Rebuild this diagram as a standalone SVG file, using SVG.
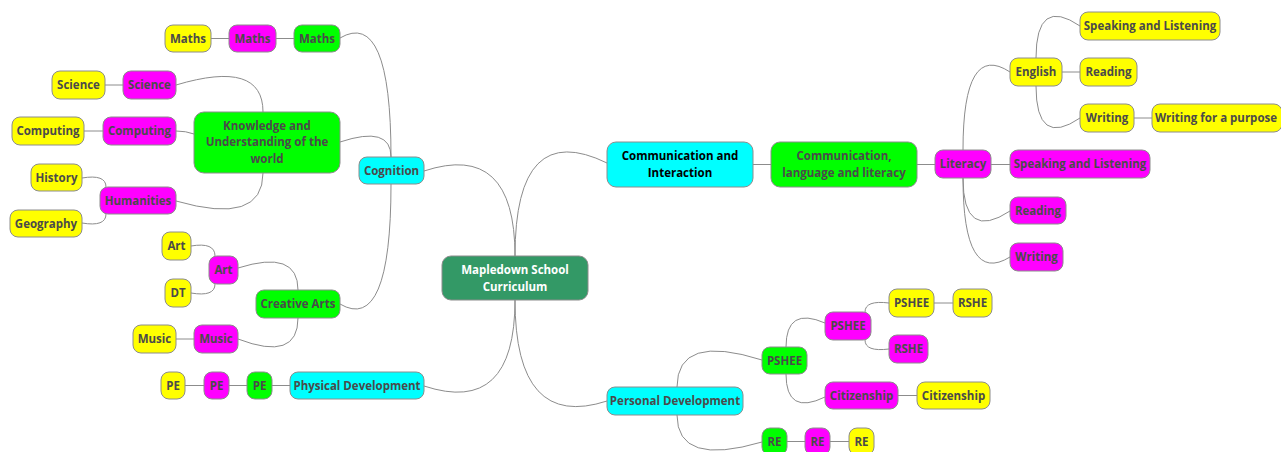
<svg xmlns="http://www.w3.org/2000/svg" width="1281" height="452" viewBox="0 0 1281 452">
<style>
g rect{stroke:#8c8c8c;stroke-width:1}
.y{fill:#ffff00}.m{fill:#ff00ff}.g{fill:#00ff00}.c{fill:#00ffff}.r{fill:#339966}
text{font-family:"Open Sans","Noto Sans","DejaVu Sans",sans-serif;font-weight:bold;font-size:11.5px;fill:#4a4a4a;text-anchor:middle}
.w{fill:#ffffff}.k{fill:#000000}
#connectors path,#connectors line{fill:none;stroke:#8c8c8c;stroke-width:1}
</style>
<g id="connectors">
<line x1="211" y1="38.5" x2="229" y2="38.5"/>
<line x1="276" y1="38.5" x2="294" y2="38.5"/>
<line x1="105" y1="85" x2="123" y2="85"/>
<line x1="84" y1="131" x2="103" y2="131"/>
<path d="M176,131 Q186,131 194,134"/>
<line x1="176" y1="339" x2="194" y2="339"/>
<line x1="185" y1="385.5" x2="204" y2="385.5"/>
<line x1="229" y1="385.5" x2="247" y2="385.5"/>
<line x1="272" y1="385.5" x2="290" y2="385.5"/>
<path d="M391,157 Q391,8 340,38"/>
<path d="M391,157 Q391,125 340,142"/>
<path d="M391,184 Q391,334 340,304"/>
<path d="M263,112 Q263,59 176,85"/>
<path d="M263,173 Q263,226 176,201"/>
<path d="M106,187 Q106,174 82,178"/>
<path d="M106,214 Q106,227 82,223"/>
<path d="M215,256 Q215,242 191,246"/>
<path d="M215,284 Q215,297 191,293"/>
<path d="M298,290 Q298,249 238,268"/>
<path d="M298,318 Q298,362 238,339"/>
<path d="M515,256 Q515,141 424,171"/>
<path d="M515,256 Q515,118 607,163"/>
<path d="M515,300 Q515,416 424,386"/>
<path d="M515,300 Q515,431 607,401"/>
<line x1="753" y1="164.5" x2="771" y2="164.5"/>
<line x1="917" y1="164.5" x2="935" y2="164.5"/>
<line x1="991" y1="164.5" x2="1010" y2="164.5"/>
<path d="M963,150 Q963,41 1010,72"/>
<path d="M963,178 Q963,242 1010,211"/>
<path d="M963,178 Q963,286 1010,257"/>
<path d="M1036,58 Q1036,-4 1080,26"/>
<line x1="1062" y1="72" x2="1080" y2="72"/>
<path d="M1036,86 Q1036,148 1080,118"/>
<line x1="1134" y1="118" x2="1152" y2="118"/>
<path d="M677,387 Q677,333 762,360"/>
<path d="M677,415 Q677,467 762,442"/>
<path d="M786,347 Q786,306 825,323"/>
<path d="M786,374 Q786,416 825,397"/>
<path d="M865,312 Q865,300 889,303"/>
<path d="M865,340 Q865,352 889,349"/>
<line x1="934" y1="303" x2="953" y2="303"/>
<line x1="898" y1="395.5" x2="917" y2="395.5"/>
<line x1="787" y1="441.5" x2="805" y2="441.5"/>
<line x1="830" y1="441.5" x2="849" y2="441.5"/>
</g>
<g id="n-maths-y"><rect class="y" x="165" y="25" width="46" height="27" rx="8"/><text x="188" y="42.5">Maths</text></g>
<g id="n-maths-m"><rect class="m" x="229" y="25" width="47" height="27" rx="8"/><text x="252.5" y="42.5">Maths</text></g>
<g id="n-maths-g"><rect class="g" x="294" y="25" width="46" height="27" rx="8"/><text x="317" y="42.5">Maths</text></g>
<g id="n-sci-y"><rect class="y" x="52" y="71" width="53" height="28" rx="8"/><text x="78.5" y="89">Science</text></g>
<g id="n-sci-m"><rect class="m" x="123" y="71" width="53" height="28" rx="8"/><text x="149.5" y="89">Science</text></g>
<g id="n-comp-y"><rect class="y" x="12" y="117" width="72" height="28" rx="8"/><text x="48" y="135">Computing</text></g>
<g id="n-comp-m"><rect class="m" x="103" y="117" width="73" height="28" rx="8"/><text x="139.5" y="135">Computing</text></g>
<g id="n-kuw"><rect class="g" x="194" y="112" width="146" height="61" rx="10"/><text x="267" y="129.5">Knowledge and</text><text x="267" y="146.2">Understanding of the</text><text x="267" y="162.9">world</text></g>
<g id="n-cog"><rect class="c" x="359" y="157" width="65" height="27" rx="8"/><text x="391.5" y="174.5">Cognition</text></g>
<g id="n-hist"><rect class="y" x="31" y="164" width="51" height="27" rx="8"/><text x="56.5" y="181.5">History</text></g>
<g id="n-hum"><rect class="m" x="100" y="187" width="76" height="27" rx="8"/><text x="138" y="204.5">Humanities</text></g>
<g id="n-geo"><rect class="y" x="10" y="210" width="72" height="27" rx="8"/><text x="46" y="227.5">Geography</text></g>
<g id="n-art-y"><rect class="y" x="162" y="232" width="29" height="28" rx="8"/><text x="176.5" y="250">Art</text></g>
<g id="n-art-m"><rect class="m" x="209" y="256" width="29" height="28" rx="8"/><text x="223.5" y="274">Art</text></g>
<g id="n-dt"><rect class="y" x="165" y="279" width="26" height="28" rx="8"/><text x="178" y="297">DT</text></g>
<g id="n-ca"><rect class="g" x="256" y="290" width="84" height="28" rx="8"/><text x="298" y="308">Creative Arts</text></g>
<g id="n-music-y"><rect class="y" x="133" y="325" width="43" height="28" rx="8"/><text x="154.5" y="343">Music</text></g>
<g id="n-music-m"><rect class="m" x="194" y="325" width="44" height="28" rx="8"/><text x="216" y="343">Music</text></g>
<g id="n-pe-y"><rect class="y" x="161" y="372" width="24" height="27" rx="8"/><text x="173" y="389.5">PE</text></g>
<g id="n-pe-m"><rect class="m" x="204" y="372" width="25" height="27" rx="8"/><text x="216.5" y="389.5">PE</text></g>
<g id="n-pe-g"><rect class="g" x="247" y="372" width="25" height="27" rx="8"/><text x="259.5" y="389.5">PE</text></g>
<g id="n-phys"><rect class="c" x="290" y="372" width="134" height="27" rx="8"/><text x="357" y="389.5">Physical Development</text></g>
<g id="n-root"><rect class="r" x="442" y="256" width="146" height="44" rx="9"/><text class="w" x="515" y="274">Mapledown School</text><text class="w" x="515" y="290.5">Curriculum</text></g>
<g id="n-ci"><rect class="c" x="607" y="142" width="146" height="45" rx="9"/><text class="k" x="680" y="160">Communication and</text><text class="k" x="680" y="176.5">Interaction</text></g>
<g id="n-cll"><rect class="g" x="771" y="142" width="146" height="45" rx="9"/><text x="844" y="160">Communication,</text><text x="844" y="176.5">language and literacy</text></g>
<g id="n-lit"><rect class="m" x="935" y="150" width="56" height="28" rx="8"/><text x="963" y="168">Literacy</text></g>
<g id="n-eng"><rect class="y" x="1010" y="58" width="52" height="28" rx="8"/><text x="1036" y="76">English</text></g>
<g id="n-sl-y"><rect class="y" x="1080" y="12" width="140" height="28" rx="8"/><text x="1150" y="30">Speaking and Listening</text></g>
<g id="n-read-y"><rect class="y" x="1080" y="58" width="57" height="28" rx="8"/><text x="1108.5" y="76">Reading</text></g>
<g id="n-write-y"><rect class="y" x="1080" y="104" width="54" height="28" rx="8"/><text x="1107" y="122">Writing</text></g>
<g id="n-wfap"><rect class="y" x="1152" y="104" width="130" height="28" rx="8"/><text x="1216" y="122">Writing for a purpose</text></g>
<g id="n-sl-m"><rect class="m" x="1010" y="150" width="140" height="28" rx="8"/><text x="1080" y="168">Speaking and Listening</text></g>
<g id="n-read-m"><rect class="m" x="1010" y="197" width="56" height="27" rx="8"/><text x="1038" y="214.5">Reading</text></g>
<g id="n-write-m"><rect class="m" x="1010" y="243" width="53" height="28" rx="8"/><text x="1036.5" y="261">Writing</text></g>
<g id="n-pd"><rect class="c" x="607" y="387" width="136" height="28" rx="8"/><text x="675" y="405">Personal Development</text></g>
<g id="n-pshee-g"><rect class="g" x="762" y="347" width="45" height="27" rx="8"/><text x="784.5" y="364.5">PSHEE</text></g>
<g id="n-pshee-m"><rect class="m" x="825" y="312" width="46" height="28" rx="8"/><text x="848" y="330">PSHEE</text></g>
<g id="n-pshee-y"><rect class="y" x="889" y="289" width="45" height="28" rx="8"/><text x="911.5" y="307">PSHEE</text></g>
<g id="n-rshe-y"><rect class="y" x="953" y="289" width="39" height="28" rx="8"/><text x="972.5" y="307">RSHE</text></g>
<g id="n-rshe-m"><rect class="m" x="889" y="335" width="39" height="28" rx="8"/><text x="908.5" y="353">RSHE</text></g>
<g id="n-cit-m"><rect class="m" x="825" y="382" width="73" height="27" rx="8"/><text x="861.5" y="399.5">Citizenship</text></g>
<g id="n-cit-y"><rect class="y" x="917" y="382" width="73" height="27" rx="8"/><text x="953.5" y="399.5">Citizenship</text></g>
<g id="n-re-g"><rect class="g" x="762" y="428" width="25" height="27" rx="8"/><text x="774.5" y="445.5">RE</text></g>
<g id="n-re-m"><rect class="m" x="805" y="428" width="25" height="27" rx="8"/><text x="817.5" y="445.5">RE</text></g>
<g id="n-re-y"><rect class="y" x="849" y="428" width="25" height="27" rx="8"/><text x="861.5" y="445.5">RE</text></g>
</svg>
